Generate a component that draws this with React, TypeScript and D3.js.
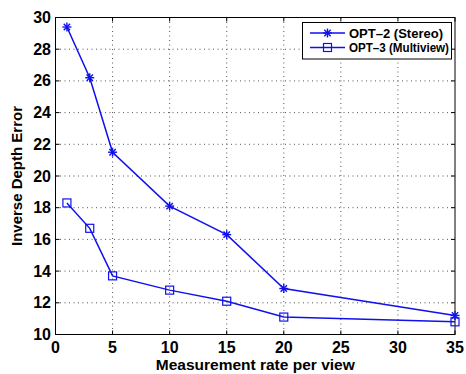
import React from "react";
import * as d3 from "d3";

const xValues = [1, 3, 5, 10, 15, 20, 35];
const opt2 = [29.4, 26.2, 21.5, 18.1, 16.3, 12.9, 11.2];
const opt3 = [18.3, 16.7, 13.7, 12.8, 12.1, 11.1, 10.8];
const xTicks = [0, 5, 10, 15, 20, 25, 30, 35];
const yTicks = [10, 12, 14, 16, 18, 20, 22, 24, 26, 28, 30];
const seriesNames = ["OPT\u20132 (Stereo)", "OPT\u20133 (Multiview)"];

const W = 466, H = 374;
const L = 55.5, R = 455, T = 17.5, B = 334.5;
const FONT = "'Liberation Sans', Arial, Helvetica, sans-serif";
const BLUE = "#1010ee";

function Star({ x, y, s = 4.5 }: { x: number; y: number; s?: number }) {
  const d = s * 0.707;
  return (
    <g stroke={BLUE} strokeWidth={1.4}>
      <line x1={x - s} y1={y} x2={x + s} y2={y} />
      <line x1={x} y1={y - s} x2={x} y2={y + s} />
      <line x1={x - d} y1={y - d} x2={x + d} y2={y + d} />
      <line x1={x - d} y1={y + d} x2={x + d} y2={y - d} />
    </g>
  );
}

function Sq({ x, y, s = 4 }: { x: number; y: number; s?: number }) {
  return <rect x={x - s} y={y - s} width={2 * s} height={2 * s} fill="none" stroke={BLUE} strokeWidth={1.2} />;
}

export default function App() {
  const x = d3.scaleLinear().domain([0, 35]).range([L, R]);
  const y = d3.scaleLinear().domain([10, 30]).range([B, T]);
  const line = d3.line<number>().x((_, i) => x(xValues[i])).y((v) => y(v));

  return (
    <svg width={W} height={H} style={{ position: "absolute", left: 0, top: 0, background: "#fff" }}>
      <rect x={0} y={0} width={W} height={H} fill="#fff" />
      {/* grid */}
      {xTicks.slice(1, -1).map((t) => (
        <line key={"gx" + t} x1={x(t)} x2={x(t)} y1={T} y2={B} stroke="#555" strokeWidth={1} strokeDasharray="1,3.5" />
      ))}
      {yTicks.slice(1, -1).map((t) => (
        <line key={"gy" + t} x1={L} x2={R} y1={y(t)} y2={y(t)} stroke="#555" strokeWidth={1} strokeDasharray="1,3.5" />
      ))}
      {/* ticks */}
      {xTicks.map((t) => (
        <g key={"tx" + t}>
          <line x1={x(t)} x2={x(t)} y1={B} y2={B - 4} stroke="#000" />
          <line x1={x(t)} x2={x(t)} y1={T} y2={T + 4} stroke="#000" />
          <text x={x(t)} y={B + 18} textAnchor="middle" fontFamily={FONT} fontWeight="bold" fontSize={16}>{t}</text>
        </g>
      ))}
      {yTicks.map((t) => (
        <g key={"ty" + t}>
          <line x1={L} x2={L + 4} y1={y(t)} y2={y(t)} stroke="#000" />
          <line x1={R} x2={R - 4} y1={y(t)} y2={y(t)} stroke="#000" />
          <text x={L - 4.5} y={y(t) + 5.5} textAnchor="end" fontFamily={FONT} fontWeight="bold" fontSize={16}>{t}</text>
        </g>
      ))}
      <rect x={L} y={T} width={R - L} height={B - T} fill="none" stroke="#000" strokeWidth={1} />
      {/* series */}
      <path d={line(opt2) || ""} fill="none" stroke={BLUE} strokeWidth={1.5} />
      <path d={line(opt3) || ""} fill="none" stroke={BLUE} strokeWidth={1.5} />
      {opt2.map((v, i) => <Star key={"s" + i} x={x(xValues[i])} y={y(v)} />)}
      {opt3.map((v, i) => <Sq key={"q" + i} x={x(xValues[i])} y={y(v)} />)}
      {/* legend */}
      <rect x={302.5} y={22.5} width={149} height={36.5} fill="#fff" stroke="#000" strokeWidth={1} />
      <line x1={310} x2={345} y1={33} y2={33} stroke={BLUE} strokeWidth={1.5} />
      <Star x={327.5} y={33} />
      <text x={349} y={37.8} fontFamily={FONT} fontWeight="bold" fontSize={13.5} textLength={94} lengthAdjust="spacingAndGlyphs">{seriesNames[0]}</text>
      <line x1={310} x2={345} y1={47.5} y2={47.5} stroke={BLUE} strokeWidth={1.5} />
      <Sq x={327.5} y={47.5} />
      <text x={349} y={52.3} fontFamily={FONT} fontWeight="bold" fontSize={13.5} textLength={100} lengthAdjust="spacingAndGlyphs">{seriesNames[1]}</text>
      {/* axis labels */}
      <text x={(L + R) / 2} y={370} textAnchor="middle" fontFamily={FONT} fontWeight="bold" fontSize={15.5}>Measurement rate per view</text>
      <text transform={`translate(22,${(T + B) / 2}) rotate(-90)`} textAnchor="middle" fontFamily={FONT} fontWeight="bold" fontSize={15}>Inverse Depth Error</text>
    </svg>
  );
}
